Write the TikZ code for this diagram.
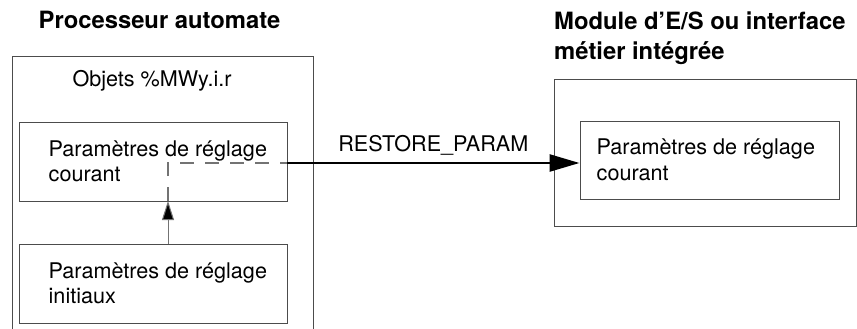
\documentclass[tikz,border=0pt]{standalone}
\usepackage{fontspec}
\setmainfont{TeX Gyre Heros}
\usepackage{tikz}
\usetikzlibrary{positioning,arrows.meta}
\definecolor{boxgray}{gray}{0.3}
\definecolor{linkgray}{gray}{0.45}

\begin{document}
\begin{tikzpicture}[
    x=1pt, y=-1pt,
    box/.style={draw=boxgray, line width=1pt, inner sep=0pt},
    txt/.style={align=left, inner sep=0pt, font=\fontsize{21.6}{25.5}\selectfont},
    title/.style={align=left, inner sep=0pt, font=\fontsize{23.8}{30}\selectfont\bfseries},
    push/.style={draw=black, line width=2.6pt, -{Triangle[length=30pt,width=17pt]}},
    load/.style={draw=linkgray, line width=1pt, -{Triangle[length=19pt,width=12pt,fill=black]}},
    relay/.style={draw=linkgray, line width=1.2pt, dash pattern=on 14pt off 11pt}
]
\useasboundingbox (0,0) rectangle (857,329);

% processeur automate
\node[title] (plc) at (159.5,20) {Processeur automate};
\draw[box] (12,329) -- (12,57) -- (313,57) -- (313,329);
\node[txt, anchor=base] (obj) at (152,87) {Objets \%MWy.i.r};
\node[box, minimum width=268pt, minimum height=79pt] (cur) at (153,161.5) {};
\node[txt, right=30pt of cur.west] (curtxt) {Paramètres de réglage\\courant};
\node[box, minimum width=268pt, minimum height=79pt] (ini) at (153,283.5) {};
\node[txt, right=30pt of ini.west] (initxt) {Paramètres de réglage\\initiaux};

% module E/S
\node[title, anchor=north west] (mod) at (554,11.5) {Module d’E/S ou interface\\métier intégrée};
\node[box, minimum width=302pt, minimum height=146pt] (io) at (705,153) {};
\node[box, minimum width=259pt, minimum height=78pt] (iocur) at (709.5,160) {};
\node[txt, right=17pt of iocur.west] (iotxt) {Paramètres de réglage\\courant};

% liaisons
\coordinate (tap) at (168,201);
\coordinate (out) at (287,163);
\draw[load] (ini.north -| tap) -- (tap);
\draw[relay] (tap) |- (out);
\draw[push] (out) -- (out -| iocur.west)
    node[midway, above=6pt, txt] (cmd) {RESTORE\_PARAM};
\end{tikzpicture}
\end{document}
